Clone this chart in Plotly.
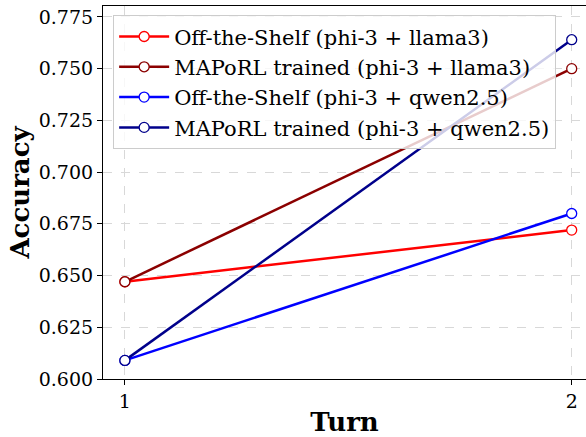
import plotly.graph_objects as go

turns = [1, 2]
series_names = [
    "Off-the-Shelf (phi-3 + llama3)",
    "MAPoRL trained (phi-3 + llama3)",
    "Off-the-Shelf (phi-3 + qwen2.5)",
    "MAPoRL trained (phi-3 + qwen2.5)",
]
offshelf_llama = [0.647, 0.672]
maporl_llama = [0.647, 0.750]
offshelf_qwen = [0.609, 0.680]
maporl_qwen = [0.609, 0.764]
colors = ["#ff0000", "#8b0000", "#0000ff", "#00008b"]
y_ticks = [0.600, 0.625, 0.650, 0.675, 0.700, 0.725, 0.750, 0.775]

fig = go.Figure()
for name, vals, c in zip(series_names,
                         [offshelf_llama, maporl_llama, offshelf_qwen, maporl_qwen],
                         colors):
    fig.add_trace(go.Scatter(
        x=turns, y=vals, mode="lines+markers", name=name,
        line=dict(color=c, width=2.5),
        marker=dict(symbol="circle", size=10, color="white", line=dict(color=c, width=1.3)),
    ))

font = "DejaVu Serif"
fig.update_layout(
    width=586, height=437,
    margin=dict(l=103, r=0, t=6, b=56),
    plot_bgcolor="white", paper_bgcolor="white",
    font=dict(family=font, color="black"),
    showlegend=True,
    legend=dict(
        x=0.021, y=0.975, xanchor="left", yanchor="top",
        bgcolor="rgba(255,255,255,0.8)", bordercolor="#cccccc", borderwidth=1,
        font=dict(family=font, size=21, color="black"),
        itemwidth=50,
    ),
    xaxis=dict(
        range=[0.951, 2.032], tickvals=turns, ticktext=["1", "2"],
        showline=True, linecolor="black", linewidth=1.2, mirror=True,
        ticks="outside", ticklen=5, tickcolor="black",
        tickfont=dict(family=font, size=19),
        showgrid=True, gridcolor="#d8d8d8", griddash="dash", gridwidth=1,
        zeroline=False,
        title=dict(text="<b>Turn</b>", font=dict(family=font, size=26), standoff=7),
    ),
    yaxis=dict(
        range=[0.600, 0.7803], tickvals=y_ticks, tickformat=".3f",
        showline=True, linecolor="black", linewidth=1.2, mirror=False,
        ticks="outside", ticklen=5, tickcolor="black",
        tickfont=dict(family=font, size=19),
        showgrid=True, gridcolor="#d8d8d8", griddash="dash", gridwidth=1,
        zeroline=False,
        title=dict(text="<b>Accuracy</b>", font=dict(family=font, size=26), standoff=1),
    ),
)

fig.write_html("out.html", config={"displayModeBar": False},
               post_script="document.body.style.margin='0';document.body.style.overflow='hidden';")
